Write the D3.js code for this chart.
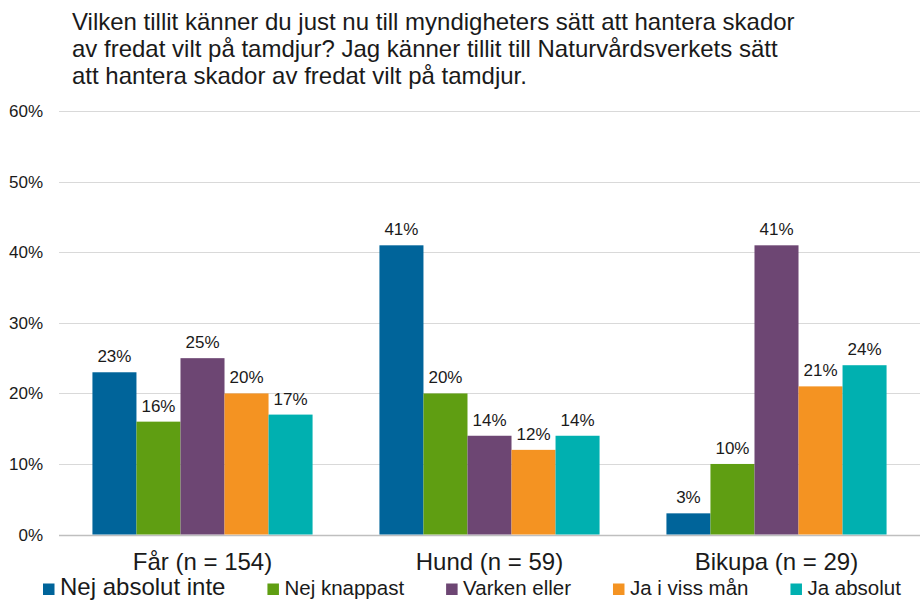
<!DOCTYPE html>
<html>
<head>
<meta charset="utf-8">
<script src="https://cdn.jsdelivr.net/npm/d3@7"></script>
<style>
  body { margin: 0; background: #fff; }
  text { font-family: "Liberation Sans", Arial, sans-serif; fill: #1a1a1a; }
</style>
</head>
<body>
<div id="chart"></div>
<script>
// Chart Setup
const width = 920;
const height = 601;
const margin = { top: 111.3, right: 0, bottom: 66.5, left: 59 };

// Data
const titleLines = [
  "Vilken tillit känner du just nu till myndigheters sätt att hantera skador",
  "av fredat vilt på tamdjur? Jag känner tillit till Naturvårdsverkets sätt",
  "att hantera skador av fredat vilt på tamdjur."
];
const categories = ["Får (n = 154)", "Hund (n = 59)", "Bikupa (n = 29)"];
const seriesNames = ["Nej absolut inte", "Nej knappast", "Varken eller", "Ja i viss mån", "Ja absolut"];
const seriesValues = [
  [23, 41, 3],
  [16, 20, 10],
  [25, 14, 41],
  [20, 12, 21],
  [17, 14, 24]
];
const yTicks = [0, 10, 20, 30, 40, 50, 60];
const colors = ["#00649a", "#5f9e12", "#6d4673", "#f49322", "#00b0b0"];

const svg = d3.select("#chart").append("svg")
  .attr("width", width)
  .attr("height", height);

// Title
svg.append("text")
  .attr("x", 72)
  .attr("y", 30)
  .style("font-size", "24px")
  .selectAll("tspan")
  .data(titleLines)
  .enter().append("tspan")
  .attr("x", 72)
  .attr("dy", (d, i) => i === 0 ? 0 : 27)
  .text(d => d);

// Scales
const x0 = d3.scaleBand()
  .domain(categories)
  .range([margin.left, width - margin.right])
  .paddingInner(0.233)
  .paddingOuter(0.1165);

const x1 = d3.scaleBand()
  .domain(d3.range(seriesNames.length))
  .range([0, x0.bandwidth()]);

const y = d3.scaleLinear()
  .domain([0, 60])
  .range([height - margin.bottom, margin.top]);

// Gridlines
svg.append("g")
  .selectAll("line")
  .data(yTicks)
  .enter().append("line")
  .attr("x1", margin.left)
  .attr("x2", width - margin.right)
  .attr("y1", d => Math.round(y(d)) + 0.5)
  .attr("y2", d => Math.round(y(d)) + 0.5)
  .attr("stroke", d => d === 0 ? "#bfbfbf" : "#d9d9d9")
  .attr("stroke-width", d => d === 0 ? 1.5 : 1);

// Y axis labels
svg.append("g")
  .selectAll("text")
  .data(yTicks)
  .enter().append("text")
  .attr("x", 43)
  .attr("y", d => y(d) + 6)
  .attr("text-anchor", "end")
  .style("font-size", "17px")
  .text(d => d + "%");

// Bars
const groups = svg.append("g")
  .selectAll("g")
  .data(categories)
  .enter().append("g")
  .attr("transform", d => `translate(${x0(d)},0)`);

groups.selectAll("rect")
  .data((d, ci) => seriesValues.map((vals, si) => ({ si, v: vals[ci] })))
  .enter().append("rect")
  .attr("x", d => x1(d.si))
  .attr("width", x1.bandwidth())
  .attr("y", d => y(d.v))
  .attr("height", d => y(0) - y(d.v))
  .attr("fill", d => colors[d.si]);

groups.selectAll("text")
  .data((d, ci) => seriesValues.map((vals, si) => ({ si, v: vals[ci] })))
  .enter().append("text")
  .attr("x", d => x1(d.si) + x1.bandwidth() / 2)
  .attr("y", d => y(d.v) - 10)
  .attr("text-anchor", "middle")
  .style("font-size", "17px")
  .text(d => d.v + "%");

// Category labels
svg.append("g")
  .selectAll("text")
  .data(categories)
  .enter().append("text")
  .attr("x", d => x0(d) + x0.bandwidth() / 2)
  .attr("y", 570)
  .attr("text-anchor", "middle")
  .style("font-size", "24px")
  .text(d => d);

// Legend
const legend = svg.append("g");
let lx = 43;
seriesNames.forEach((name, i) => {
  const item = legend.append("g");
  item.append("rect")
    .attr("x", lx)
    .attr("y", 583.5)
    .attr("width", 11.5)
    .attr("height", 11.5)
    .attr("fill", colors[i]);
  const t = item.append("text")
    .attr("x", lx + 17)
    .attr("y", 595)
    .style("font-size", i === 0 ? "24px" : "20.5px")
    .text(name);
  lx += 17 + t.node().getComputedTextLength() + 42;
});
</script>
</body>
</html>
